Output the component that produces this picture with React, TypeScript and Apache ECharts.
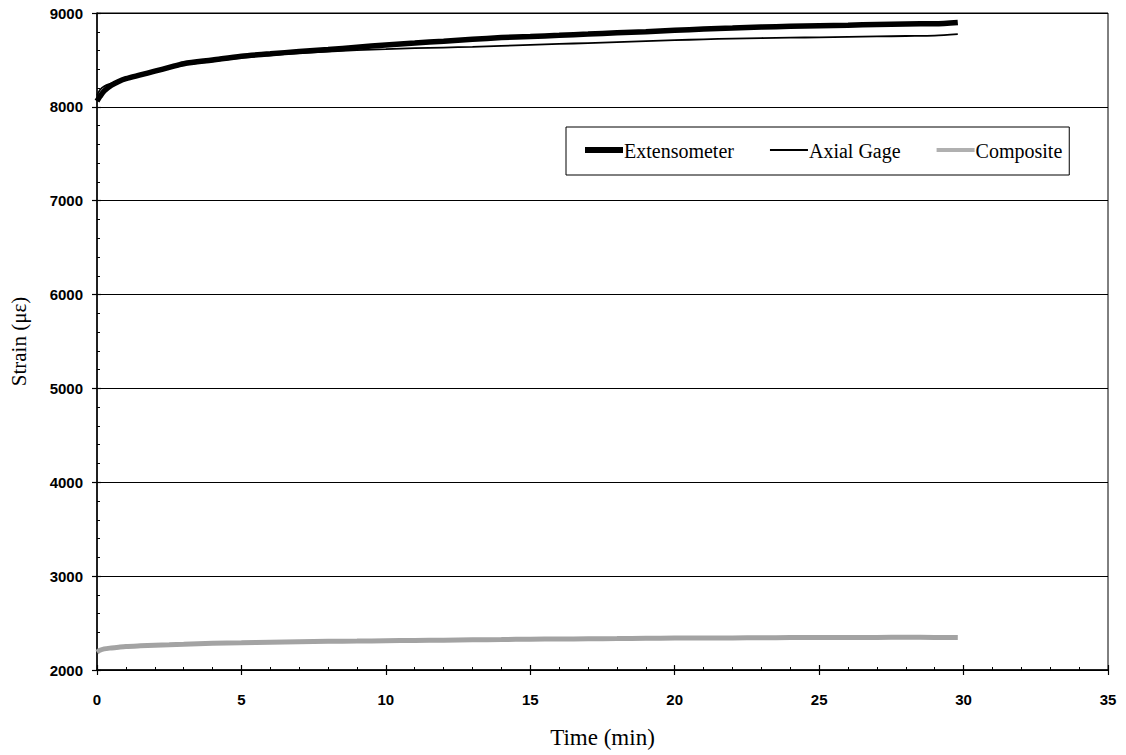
import React, { useEffect, useRef } from "react";
import * as echarts from "echarts";

const timeMin = [0, 0.1, 0.25, 0.5, 0.75, 1, 1.5, 2, 2.5, 3, 4, 5, 6, 7, 8, 9, 10, 11, 12, 13, 14, 15, 16, 17, 18, 19, 20, 21, 22, 23, 24, 25, 26, 27, 28, 29, 29.8];

const extensometer = [8060, 8110, 8170, 8230, 8270, 8300, 8340, 8380, 8420, 8460, 8500, 8540, 8565, 8590, 8610, 8635, 8660, 8680, 8700, 8720, 8738, 8750, 8762, 8775, 8790, 8800, 8815, 8830, 8840, 8850, 8858, 8865, 8870, 8878, 8884, 8885, 8900];

const axialGage = [8120, 8180, 8220, 8250, 8275, 8295, 8330, 8370, 8410, 8445, 8485, 8525, 8550, 8572, 8590, 8605, 8615, 8625, 8632, 8640, 8650, 8660, 8670, 8680, 8690, 8700, 8710, 8720, 8728, 8733, 8738, 8740, 8745, 8750, 8755, 8760, 8775];

const composite = [2190, 2210, 2225, 2235, 2243, 2250, 2258, 2265, 2270, 2275, 2285, 2290, 2295, 2300, 2305, 2308, 2312, 2315, 2318, 2322, 2325, 2328, 2330, 2333, 2335, 2338, 2340, 2341, 2342, 2344, 2345, 2345, 2346, 2347, 2348, 2347, 2345];

const seriesNames = ["Extensometer", "Axial Gage", "Composite"];
const xTicks = { min: 0, max: 35, interval: 5 };
const yTicks = { min: 2000, max: 9000, interval: 1000 };

const pairs = (ys: number[]) => timeMin.map((t, i) => [t, ys[i]]);

export default function App() {
  const ref = useRef<HTMLDivElement>(null);
  useEffect(() => {
    if (!ref.current) return;
    const chart = echarts.init(ref.current, undefined, { renderer: "svg" });
    const labelFont = { fontFamily: "Liberation Sans, Arial", fontWeight: "bold" as const, fontSize: 15, color: "#000" };
    const serif = "Liberation Serif, Times New Roman";
    const icon = (y0: number, y1: number) => `path://M0,0M0,${y0}L38,${y0}L38,${y1}L0,${y1}ZM38,14`;
    chart.setOption({
      animation: false,
      backgroundColor: "#fff",
      grid: { left: 96, right: 18, top: 13, bottom: 85, show: true, borderColor: "#000", borderWidth: 1 },
      legend: {
        left: 566,
        top: 127,
        orient: "horizontal",
        data: [
          { name: seriesNames[0], icon: icon(3, 9), itemStyle: { color: "#000" } },
          { name: seriesNames[1], icon: icon(5, 7), itemStyle: { color: "#000" } },
          { name: seriesNames[2], icon: icon(4, 8), itemStyle: { color: "#b0b0b0" } },
        ],
        borderColor: "#000",
        borderWidth: 1,
        padding: [14, 7, 14, 19],
        itemWidth: 38,
        itemHeight: 14,
        itemGap: 36,
        textStyle: { fontFamily: serif, fontSize: 20, color: "#000", padding: [4, 0, 0, -4] },
      },
      xAxis: [
        {
          type: "value",
          min: xTicks.min,
          max: xTicks.max,
          interval: xTicks.interval,
          name: "Time (min)",
          nameLocation: "middle",
          nameGap: 56,
          nameTextStyle: { fontFamily: serif, fontSize: 23, color: "#000" },
          axisLine: { show: true, onZero: false, lineStyle: { color: "#000", width: 1.5 } },
          axisTick: { show: true, inside: false, length: 5, lineStyle: { color: "#000", width: 1.2 } },
          axisLabel: { ...labelFont, margin: 22, formatter: (v: number) => String(v) },
          splitLine: { show: false },
        },
        {
          type: "value",
          position: "bottom",
          min: xTicks.min,
          max: xTicks.max,
          interval: xTicks.interval,
          axisLine: { show: false, onZero: false },
          axisTick: { show: true, inside: true, length: 5, lineStyle: { color: "#000", width: 1.2 } },
          minorTick: { show: true, splitNumber: 5, length: 3, lineStyle: { color: "#000", width: 1 } },
          axisLabel: { show: false },
          splitLine: { show: false },
        },
      ],
      yAxis: [
        {
          type: "value",
          min: yTicks.min,
          max: yTicks.max,
          interval: yTicks.interval,
          name: "Strain (\u03bc\u03b5)",
          nameLocation: "middle",
          nameGap: 68,
          nameTextStyle: { fontFamily: serif, fontSize: 21, color: "#000" },
          axisLine: { show: true, onZero: false, lineStyle: { color: "#000", width: 1.5 } },
          axisTick: { show: true, inside: false, length: 5, lineStyle: { color: "#000", width: 1.2 } },
          axisLabel: { ...labelFont, margin: 14, formatter: (v: number) => String(v) },
          splitLine: { show: true, lineStyle: { color: "#000", width: 1 } },
        },
        {
          type: "value",
          position: "left",
          min: yTicks.min,
          max: yTicks.max,
          interval: yTicks.interval,
          axisLine: { show: false, onZero: false },
          axisTick: { show: true, inside: true, length: 4, lineStyle: { color: "#000", width: 1.2 } },
          minorTick: { show: true, splitNumber: 5, length: 3, lineStyle: { color: "#000", width: 1 } },
          axisLabel: { show: false },
          splitLine: { show: false },
        },
      ],
      series: [
        {
          name: seriesNames[0],
          type: "line",
          data: pairs(extensometer),
          showSymbol: false,
          symbol: "none",
          smooth: 0.3,
          lineStyle: { color: "#000", width: 5.5 },
          itemStyle: { color: "#000" },
          z: 3,
        },
        {
          name: seriesNames[1],
          type: "line",
          data: pairs(axialGage),
          showSymbol: false,
          symbol: "none",
          smooth: 0.3,
          lineStyle: { color: "#000", width: 1.8 },
          itemStyle: { color: "#000" },
          z: 4,
        },
        {
          name: seriesNames[2],
          type: "line",
          data: pairs(composite),
          showSymbol: false,
          symbol: "none",
          smooth: 0.3,
          lineStyle: { color: "#a3a3a3", width: 5 },
          itemStyle: { color: "#a3a3a3" },
          z: 2,
        },
      ],
    });
    return () => chart.dispose();
  }, []);
  return <div ref={ref} style={{ position: "absolute", left: 0, top: 0, width: 1126, height: 755 }} />;
}
